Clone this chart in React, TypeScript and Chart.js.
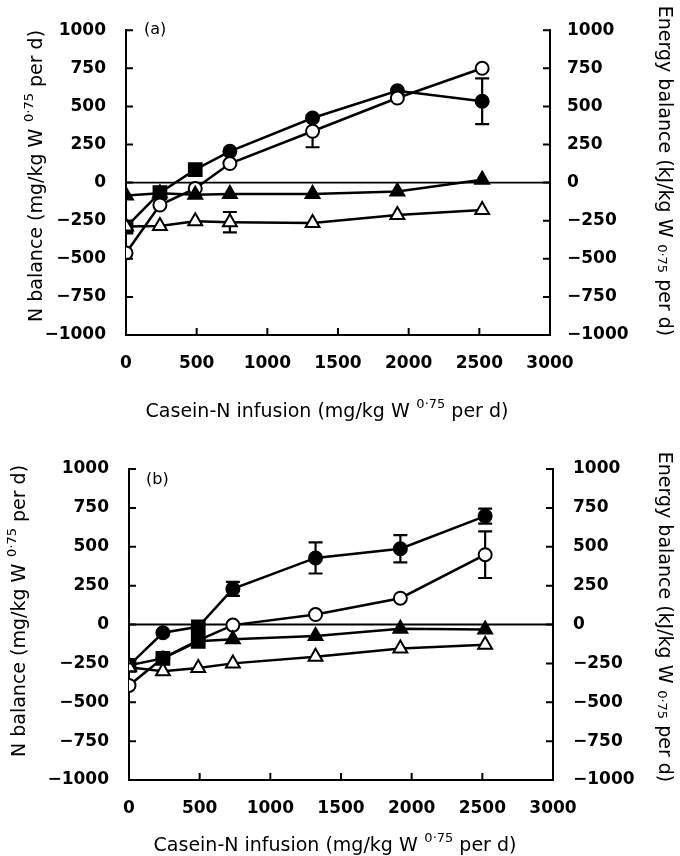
import React, { useEffect, useRef } from "react";
import { Chart, registerables } from "chart.js";

Chart.register(...registerables);

// ---------- data ----------
const DOSES = [0, 240, 490, 735, 1320, 1920, 2520];

// Panel (a)
const A_N_FILLED = [-292, -66, 85, 205, 424, 602, 534];
const A_N_FILLED_ERR = [0, 0, 0, 0, 0, 0, 150];
const A_N_OPEN = [-462, -147, -38, 125, 337, 555, 750];
const A_N_OPEN_ERR = [0, 0, 0, 0, 105, 0, 0];
const A_E_FILLED = [-85, -70, -80, -74, -74, -59, 19];
const A_E_FILLED_ERR = [0, 0, 0, 0, 0, 0, 0];
const A_E_OPEN = [-288, -285, -254, -260, -265, -212, -180];
const A_E_OPEN_ERR = [0, 0, 0, 67, 0, 0, 0];

// Panel (b)
const B_N_FILLED = [-263, -53, -15, 229, 428, 487, 697];
const B_N_FILLED_ERR = [0, 0, 0, 45, 100, 88, 48];
const B_N_OPEN = [-392, -216, -102, -4, 64, 169, 449];
const B_N_OPEN_ERR = [0, 0, 0, 0, 0, 0, 150];
const B_E_FILLED = [-263, -218, -108, -95, -74, -28, -32];
const B_E_FILLED_ERR = [0, 0, 0, 0, 0, 0, 0];
const B_E_OPEN = [-275, -300, -280, -250, -208, -155, -131];
const B_E_OPEN_ERR = [0, 0, 0, 0, 0, 0, 0];

// marker shapes as printed (some filled markers appear square)
const A_N_FILLED_SHAPES = ["rect", "rect", "rect", "circle", "circle", "circle", "circle"];
const B_N_FILLED_SHAPES = ["rect", "circle", "rect", "circle", "circle", "circle", "circle"];
const B_E_FILLED_SHAPES = ["triangle", "rect", "rect", "triangle", "triangle", "triangle", "triangle"];

const X_MIN = 0;
const X_MAX = 3000;
const X_STEP = 500;
const Y_MIN = -1000;
const Y_MAX = 1000;
const Y_STEP = 250;

const X_TITLE = ["Casein-N infusion (mg/kg W", "0·75", " per d)"];
const Y_LEFT_TITLE = ["N balance (mg/kg W", "0·75", " per d)"];
const Y_RIGHT_TITLE = ["Energy balance (kJ/kg W", "0·75", " per d)"];

const TICK_FONT = { family: "'DejaVu Sans'", size: 17, weight: "bold" as const };
const TITLE_SIZE = 19;

const fmt = (v: number) => (v < 0 ? "\u2212" + Math.abs(v) : String(v));

function drawRich(
  ctx: CanvasRenderingContext2D,
  cx: number,
  cy: number,
  rot: number,
  parts: string[],
  size: number,
  supDir: number
) {
  const [pre, sup, post] = parts;
  ctx.save();
  ctx.translate(cx, cy);
  ctx.rotate(rot);
  const f = `${size}px 'DejaVu Sans'`;
  const fs = `${Math.round(size * 0.68)}px 'DejaVu Sans'`;
  ctx.font = f;
  const w1 = ctx.measureText(pre).width;
  const w3 = ctx.measureText(post).width;
  ctx.font = fs;
  const w2 = ctx.measureText(sup).width;
  const gap = size * 0.35;
  const total = w1 + gap + w2 + w3;
  let x = -total / 2;
  const base = size * 0.36;
  ctx.fillStyle = "#000";
  ctx.textAlign = "left";
  ctx.textBaseline = "alphabetic";
  ctx.font = f;
  ctx.fillText(pre, x, base);
  x += w1 + gap;
  ctx.font = fs;
  ctx.fillText(sup, x, supDir > 0 ? base - size * 0.48 : base + size * 0.08);
  x += w2;
  ctx.font = f;
  ctx.fillText(post, x, base);
  ctx.restore();
}

const decorPlugin = {
  id: "decor",
  beforeDatasetsDraw(chart: any, _args: any, opts: any) {
    const ctx = chart.ctx as CanvasRenderingContext2D;
    const { left, right } = chart.chartArea;
    const ys = chart.scales.y;
    ctx.save();
    ctx.strokeStyle = "#000";
    ctx.lineWidth = 1.8;
    const y0 = ys.getPixelForValue(0);
    ctx.beginPath();
    ctx.moveTo(left, y0);
    ctx.lineTo(right, y0);
    ctx.stroke();
    // error bars
    ctx.lineWidth = 2.2;
    (opts.errors || []).forEach((errs: number[], di: number) => {
      const ds = chart.data.datasets[di];
      errs.forEach((e: number, i: number) => {
        if (!e) return;
        const p = ds.data[i];
        const x = chart.scales.x.getPixelForValue(p.x);
        const yt = ys.getPixelForValue(p.y + e);
        const yb = ys.getPixelForValue(p.y - e);
        ctx.beginPath();
        ctx.moveTo(x, yt);
        ctx.lineTo(x, yb);
        ctx.moveTo(x - 7, yt);
        ctx.lineTo(x + 7, yt);
        ctx.moveTo(x - 7, yb);
        ctx.lineTo(x + 7, yb);
        ctx.stroke();
      });
    });
    ctx.restore();
  },
  afterDraw(chart: any, _args: any, opts: any) {
    const ctx = chart.ctx as CanvasRenderingContext2D;
    const { left, right, bottom } = chart.chartArea;
    const ys = chart.scales.y;
    const xs = chart.scales.x;
    ctx.save();
    ctx.strokeStyle = "#000";
    ctx.lineWidth = 2;
    const TL = 7;
    ctx.beginPath();
    for (let v = Y_MIN; v <= Y_MAX; v += Y_STEP) {
      const y = ys.getPixelForValue(v);
      ctx.moveTo(left, y);
      ctx.lineTo(left + TL, y);
      ctx.moveTo(right, y);
      ctx.lineTo(right - TL, y);
    }
    for (let v = X_MIN + X_STEP; v < X_MAX; v += X_STEP) {
      const x = xs.getPixelForValue(v);
      ctx.moveTo(x, bottom);
      ctx.lineTo(x, bottom - TL);
    }
    ctx.stroke();
    // panel label
    ctx.fillStyle = "#000";
    ctx.font = "16px 'DejaVu Sans'";
    ctx.textAlign = "left";
    ctx.textBaseline = "middle";
    ctx.fillText(opts.label, opts.labelX, opts.labelY);
    ctx.restore();
    drawRich(ctx, opts.xTitle[0], opts.xTitle[1], 0, X_TITLE, TITLE_SIZE, 1);
    drawRich(ctx, opts.lTitle[0], opts.lTitle[1], -Math.PI / 2, Y_LEFT_TITLE, TITLE_SIZE, 1);
    drawRich(ctx, opts.rTitle[0], opts.rTitle[1], Math.PI / 2, Y_RIGHT_TITLE, TITLE_SIZE, -1);
  },
};

function series(ys: number[], shape: string | string[], filled: boolean) {
  const shapes = Array.isArray(shape) ? shape : DOSES.map(() => shape);
  const radii = shapes.map((s) => (s === "triangle" ? 8 : s === "rect" ? 9 : 6.5));
  return {
    data: DOSES.map((x, i) => ({ x, y: ys[i] })),
    borderColor: "#000",
    borderWidth: 2.5,
    pointStyle: shapes,
    pointRadius: radii,
    pointBorderWidth: 2,
    pointBorderColor: "#000",
    pointBackgroundColor: filled ? "#000" : "#fff",
    backgroundColor: filled ? "#000" : "#fff",
    fill: false,
    tension: 0,
  };
}

type PanelSpec = {
  nFilled: number[];
  nFilledShapes: string[] | string;
  nOpen: number[];
  eFilled: number[];
  eFilledShapes: string[] | string;
  eOpen: number[];
  errors: number[][];
  label: string;
  labelX: number;
  labelY: number;
  top: number;
  leftW: number;
  rightW: number;
  xH: number;
  xTitle: number[];
  lTitle: number[];
  rTitle: number[];
  leftPad: number;
  rightPad: number;
};

function makeConfig(p: PanelSpec): any {
  const yCommon = {
    type: "linear",
    min: Y_MIN,
    max: Y_MAX,
    grid: { display: false, drawTicks: false },
    border: { display: true, width: 2, color: "#000" },
    title: { display: false },
  };
  return {
    type: "line",
    data: {
      datasets: [
        series(p.eOpen, "triangle", false),
        series(p.eFilled, p.eFilledShapes, true),
        series(p.nOpen, "circle", false),
        series(p.nFilled, p.nFilledShapes, true),
      ],
    },
    options: {
      responsive: false,
      animation: false,
      layout: { padding: { top: p.top, left: 0, right: 0, bottom: 0 } },
      plugins: {
        legend: { display: false },
        tooltip: { enabled: false },
        decor: {
          errors: p.errors,
          label: p.label,
          labelX: p.labelX,
          labelY: p.labelY,
          xTitle: p.xTitle,
          lTitle: p.lTitle,
          rTitle: p.rTitle,
        },
      },
      scales: {
        x: {
          type: "linear",
          min: X_MIN,
          max: X_MAX,
          grid: { display: false, drawTicks: false },
          border: { display: true, width: 2, color: "#000" },
          ticks: {
            stepSize: X_STEP,
            color: "#000",
            font: TICK_FONT,
            padding: 18,
            maxRotation: 0,
            autoSkip: false,
            callback: (v: number) => fmt(v),
          },
          afterFit: (s: any) => {
            s.height = p.xH;
          },
        },
        y: {
          ...yCommon,
          position: "left",
          ticks: {
            stepSize: Y_STEP,
            color: "#000",
            font: TICK_FONT,
            padding: p.leftPad,
            callback: (v: number) => fmt(v),
          },
          afterFit: (s: any) => {
            s.width = p.leftW;
          },
        },
        y2: {
          ...yCommon,
          position: "right",
          ticks: {
            stepSize: Y_STEP,
            color: "#000",
            font: TICK_FONT,
            padding: p.rightPad,
            callback: (v: number) => fmt(v),
          },
          afterFit: (s: any) => {
            s.width = p.rightW;
          },
        },
      },
    },
    plugins: [decorPlugin],
  };
}

const PANEL_A: PanelSpec = {
  nFilled: A_N_FILLED,
  nFilledShapes: A_N_FILLED_SHAPES,
  nOpen: A_N_OPEN,
  eFilled: A_E_FILLED,
  eFilledShapes: "triangle",
  eOpen: A_E_OPEN,
  errors: [A_E_OPEN_ERR, A_E_FILLED_ERR, A_N_OPEN_ERR, A_N_FILLED_ERR],
  label: "(a)",
  labelX: 144,
  labelY: 30,
  top: 22,
  leftW: 126,
  rightW: 130,
  xH: 93,
  xTitle: [327, 410],
  lTitle: [35, 176],
  rTitle: [666, 171],
  leftPad: 20,
  rightPad: 17,
};

const PANEL_B: PanelSpec = {
  nFilled: B_N_FILLED,
  nFilledShapes: B_N_FILLED_SHAPES,
  nOpen: B_N_OPEN,
  eFilled: B_E_FILLED,
  eFilledShapes: B_E_FILLED_SHAPES,
  eOpen: B_E_OPEN,
  errors: [B_E_OPEN_ERR, B_E_FILLED_ERR, B_N_OPEN_ERR, B_N_FILLED_ERR],
  label: "(b)",
  labelX: 146,
  labelY: 52,
  top: 41,
  leftW: 129,
  rightW: 127,
  xH: 76,
  xTitle: [335, 416],
  lTitle: [18, 183],
  rTitle: [666, 189],
  leftPad: 20,
  rightPad: 20,
};

function Panel({ spec }: { spec: PanelSpec }) {
  const ref = useRef<HTMLCanvasElement | null>(null);
  useEffect(() => {
    if (!ref.current) return;
    const chart = new Chart(ref.current, makeConfig(spec));
    return () => chart.destroy();
  }, [spec]);
  return <canvas ref={ref} width={680} height={428} style={{ display: "block", width: 680, height: 428 }} />;
}

export default function App() {
  return (
    <div style={{ position: "fixed", left: 0, top: 0, width: 680, height: 856, background: "#fff" }}>
      <Panel spec={PANEL_A} />
      <Panel spec={PANEL_B} />
    </div>
  );
}
